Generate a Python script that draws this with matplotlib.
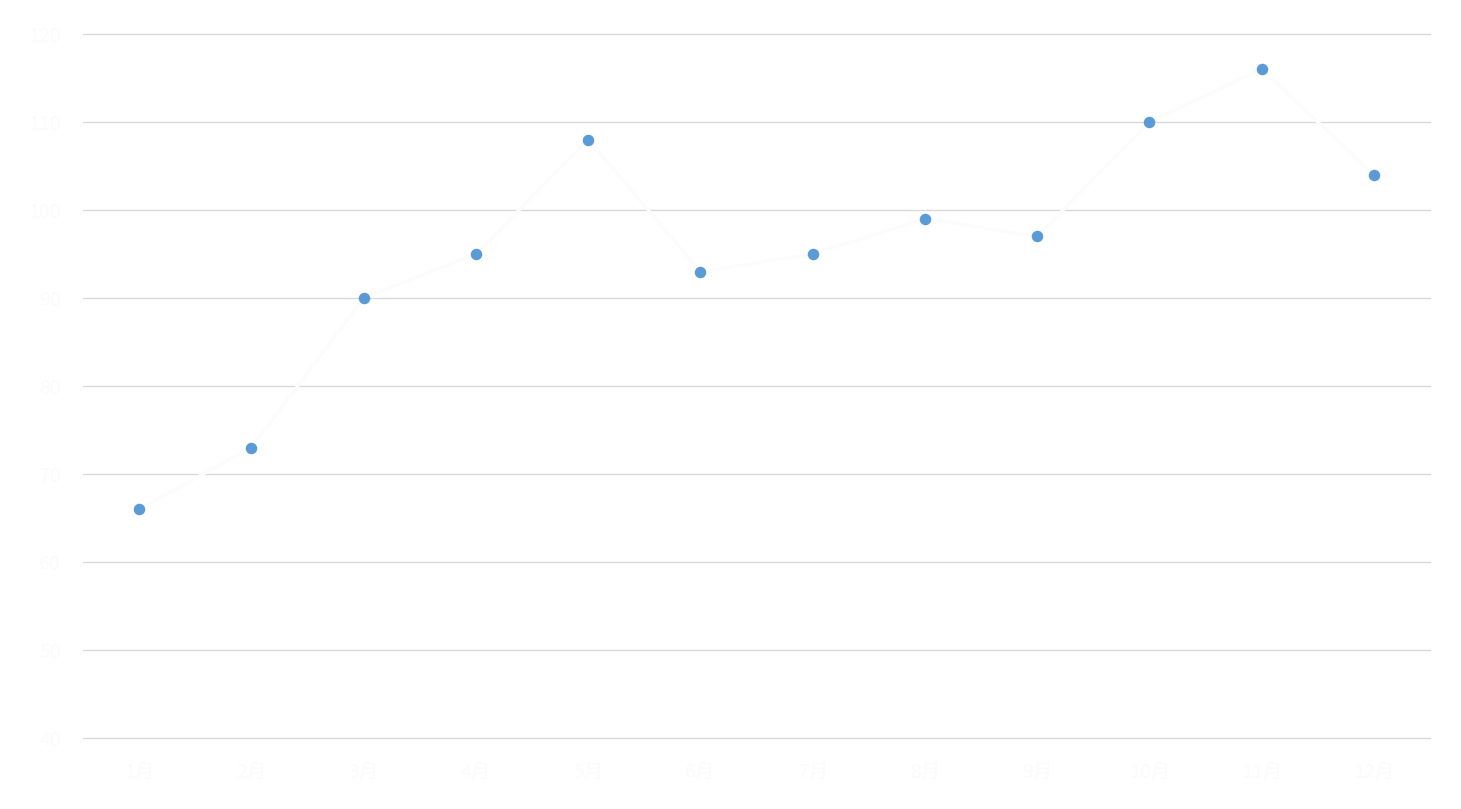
import matplotlib.pyplot as plt

plt.rcParams['font.family'] = ['Noto Sans CJK SC', 'DejaVu Sans']

months = ["1月", "2月", "3月", "4月", "5月", "6月", "7月", "8月", "9月", "10月", "11月", "12月"]
values = [66, 73, 90, 95, 108, 93, 95, 99, 97, 110, 116, 104]
yticks = [40, 50, 60, 70, 80, 90, 100, 110, 120]

fig = plt.figure(figsize=(14.61, 8.09), dpi=100)
ax = fig.add_axes([0.0568, 0.0878, 0.922, 0.8702])

xs = list(range(len(months)))
# the line is almost white in the original, only the markers stand out
ax.plot(xs, values, '-', color='#fcfcfc', linewidth=2.4, zorder=3)
ax.plot(xs, values, 'o', color='#5b9bd5', markersize=8.3, markeredgewidth=0, zorder=4)

ax.set_xlim(-0.5, len(months) - 0.5)
ax.set_ylim(40, 120)
ax.set_yticks(yticks)
ax.set_xticks(xs)
ax.set_xticklabels(months)
ax.yaxis.grid(True, color='#d9d9d9', linewidth=1)
for gl in ax.get_ygridlines():
    gl.set_clip_on(False)
ax.set_axisbelow(True)
for s in ax.spines.values():
    s.set_visible(False)
ax.tick_params(length=0, labelsize=14, labelcolor='#fbfbfb')
ax.tick_params(axis='y', pad=16)
ax.tick_params(axis='x', pad=17)

fig.savefig('out.png', dpi=100)
